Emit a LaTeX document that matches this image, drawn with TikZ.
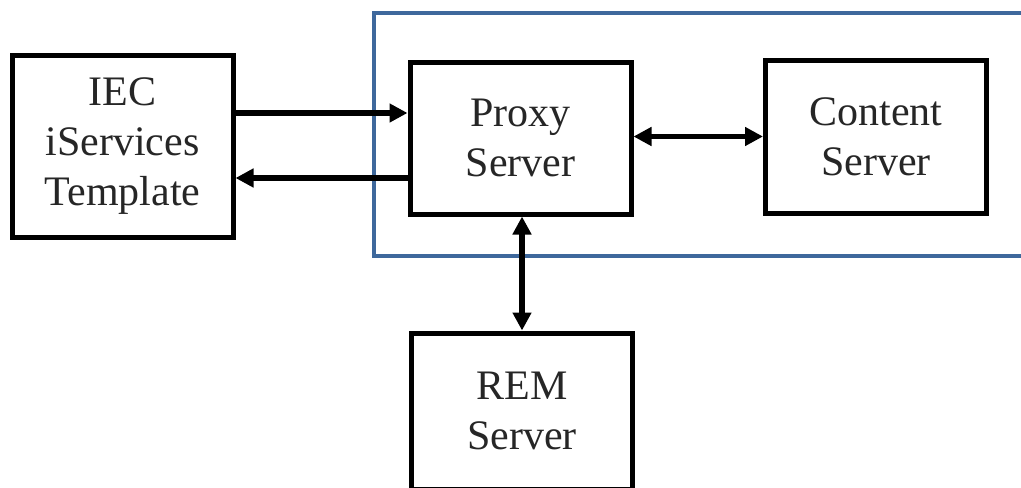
\documentclass[tikz,border=0pt]{standalone}
\usepackage{fontspec}
\setmainfont{Liberation Serif}
\usetikzlibrary{arrows.meta}

\definecolor{frameblue}{RGB}{62,104,156}

\tikzstyle{unit} = [rectangle, draw, line width=2.5pt, fill=white,
                    text centered, align=center, text=black!85,
                    font=\fontsize{21}{25}\selectfont,
                    minimum width=110.5pt]
\tikzstyle{link} = [line width=2.8pt, -{Triangle[length=9pt,width=9pt]}]
\tikzstyle{both} = [line width=2.8pt,
                    {Triangle[length=9pt,width=9pt]}-{Triangle[length=9pt,width=9pt]}]
\tikzstyle{group} = [draw=frameblue, line width=2pt]

\begin{document}
\begin{tikzpicture}[x=0.5pt, y=-0.5pt]
  \clip (0,0) rectangle (1021,487);
  \fill [white] (0,0) rectangle (1021,487);

  %% Frame round the servers
  \draw [group] (374,13) rectangle (1040,256);

  %% Boxes
  \node (iec) [unit, minimum height=91pt] at (122.5,146) {IEC\\ iServices\\ Template};
  \node (proxy) [unit, minimum height=76pt] at (520.5,138) {Proxy\\ Server};
  \node (content) [unit, minimum height=76.5pt] at (876,136.5) {Content\\ Server};
  \node (rem) [unit, minimum height=78pt] at (522,411) {REM\\ Server};

  %% Requests and replies
  \draw [link] ([yshift=16.5pt]iec.east) -- ([yshift=16.5pt]iec.east -| proxy.west);
  \draw [link] ([yshift=-16pt]iec.east -| proxy.west) -- ([yshift=-16pt]iec.east);

  \draw [both] (proxy.east |- content.west) -- (content.west);
  \draw [both] (proxy.south -| rem.north) -- (rem.north);

\end{tikzpicture}
\end{document}
